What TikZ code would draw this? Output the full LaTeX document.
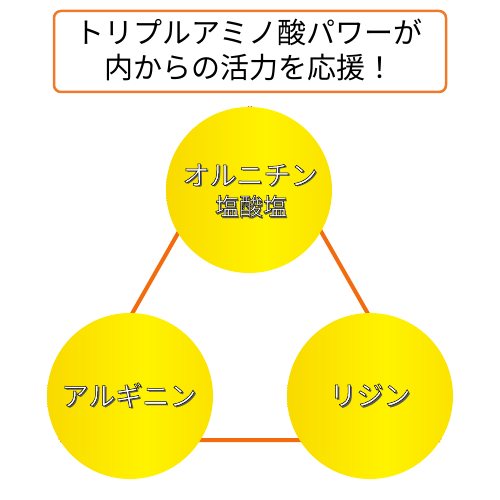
\documentclass[tikz,border=0pt]{standalone}
\usepackage{fontspec}
\newfontfamily\jp{Noto Sans CJK JP}
\definecolor{boxorange}{HTML}{EE7A2A}
\definecolor{lineorange}{HTML}{F26B0F}
\definecolor{goldedge}{HTML}{F4C200}
\definecolor{goldmid}{HTML}{FFF300}
\pgfdeclarehorizontalshading{goldball}{100bp}{color(0bp)=(goldedge); color(20bp)=(goldedge!60!goldmid); color(55bp)=(goldmid); color(85bp)=(goldedge!50!goldmid); color(100bp)=(goldedge)}
\newcommand\olt[1]{%
 \makebox[0pt][l]{\kern1.8pt\raisebox{-1.8pt}{\textcolor{black!65}{#1}}}%
 \textcolor{white}{\special{pdf:code q 2 Tr 0.5 w 0 0 0 RG}#1\special{pdf:code Q}}}
\tikzset{
  ball/.style={circle, minimum size=166pt, inner sep=0pt, shading=goldball},
  tri/.style={draw=lineorange, line width=4pt},
  lab/.style={font=\jp\fontsize{27}{30}\selectfont, inner sep=0pt},
  sublab/.style={font=\jp\fontsize{24}{28}\selectfont, inner sep=0pt},
  titlebox/.style={draw=boxorange, line width=2.5pt, rounded corners=7pt, fill=white},
  title/.style={font=\jp\fontsize{29}{35}\selectfont, align=center, inner sep=0pt, text=black}
}
\begin{document}
\begin{tikzpicture}[x=1pt,y=-1pt]
\useasboundingbox (0,0) rectangle (500,500);
\fill[white] (0,0) rectangle (500,500);
% title
\draw[titlebox] (54,11) rectangle (446,92);
\node[title] (t) at (249,50) {トリプルアミノ酸パワーが\\内からの活力を応援！};
% triangle corners
\coordinate (A) at (250,107);
\coordinate (B) at (60,440);
\coordinate (C) at (440,440);
\draw[tri] (A) -- (B) (A) -- (C) (B) -- (C);
% circles
\node[ball] (orn) at (249,190) {};
\node[ball] (arg) at (130,396) {};
\node[ball] (lys) at (370,396) {};
\node[lab] (ornl) at (250,176) {\olt{オルニチン}};
\node[sublab] (ornh) at (251,207) {\olt{塩酸塩}};
\node[lab] (argl) at (129,396) {\olt{アルギニン}};
\node[lab] (lysl) at (370,396) {\olt{リジン}};
\end{tikzpicture}
\end{document}
